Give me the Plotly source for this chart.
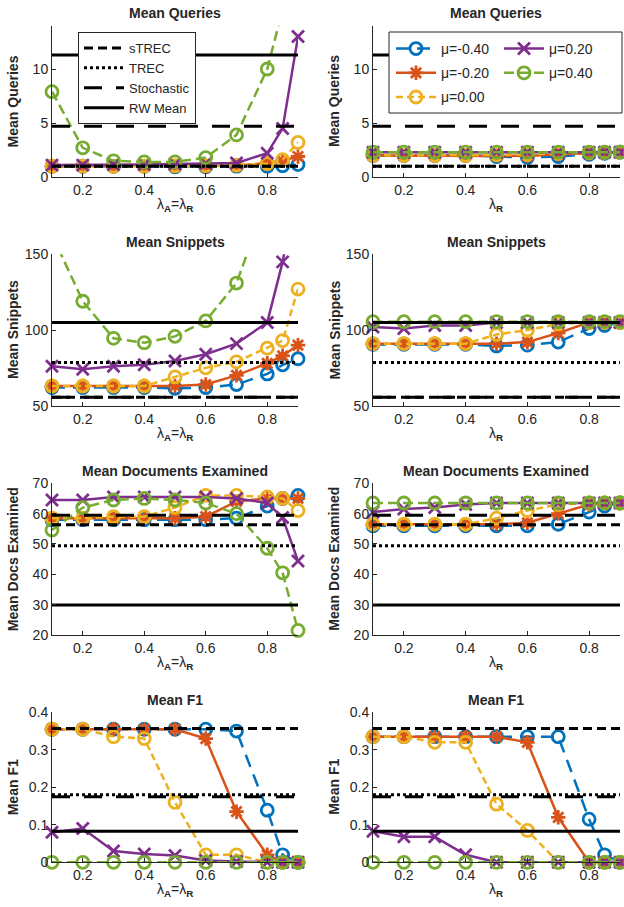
import plotly.graph_objects as go

W, H = 624, 907

# ---------------- data ----------------
lam = [0.1, 0.2, 0.3, 0.4, 0.5, 0.6, 0.7, 0.8, 0.85, 0.9]
mu_labels = ["μ=-0.40", "μ=-0.20", "μ=0.00", "μ=0.20", "μ=0.40"]
ref_labels = ["sTREC", "TREC", "Stochastic", "RW Mean"]

# Mean Queries
q_ar_m040 = [1.0, 1.0, 1.0, 1.0, 0.95, 0.95, 1.0, 1.0, 1.05, 1.15]
q_ar_m020 = [1.0, 1.0, 1.0, 1.0, 1.0, 1.0, 1.05, 1.3, 1.5, 1.9]
q_ar_p000 = [1.0, 1.0, 1.0, 1.0, 1.05, 1.05, 1.1, 1.25, 1.6, 3.2]
q_ar_p020 = [1.1, 1.1, 1.15, 1.15, 1.2, 1.25, 1.3, 2.2, 4.5, 13.0]
q_ar_p040 = [7.9, 2.7, 1.5, 1.4, 1.4, 1.8, 3.9, 10.0, 15.5, 25.0]
q_r_m040 = [2.0, 2.0, 2.0, 2.0, 1.9, 1.8, 1.9, 2.1, 2.2, 2.3]
q_r_m020 = [2.0, 2.0, 2.0, 2.0, 2.0, 1.95, 2.1, 2.2, 2.25, 2.3]
q_r_p000 = [2.0, 2.0, 2.0, 2.0, 2.05, 2.1, 2.2, 2.25, 2.3, 2.3]
q_r_p020 = [2.3, 2.3, 2.3, 2.3, 2.3, 2.3, 2.3, 2.3, 2.3, 2.3]
q_r_p040 = [2.3, 2.3, 2.3, 2.3, 2.3, 2.3, 2.3, 2.3, 2.3, 2.3]
q_ref = [1.0, 1.0, 4.7, 11.3]

# Mean Snippets
s_ar_m040 = [62, 62, 62, 62, 61.5, 62, 64, 71, 77, 81]
s_ar_m020 = [63, 63, 63, 63, 63, 64, 70, 78, 83, 90]
s_ar_p000 = [63, 63, 63, 63, 69, 75, 79, 88, 93, 127]
s_ar_p020 = [76, 74, 76, 77, 79.5, 84, 91, 105, 145, 200]
s_ar_p040 = [163, 119, 94.5, 91.6, 95.8, 106, 131, 187, 250, 330]
s_r_m040 = [90.5, 90.5, 90.5, 90.5, 89.5, 90, 92, 101, 103, 105]
s_r_m020 = [91, 91, 91, 91, 91, 92, 98, 105, 105, 105]
s_r_p000 = [91, 91, 91, 91, 97, 100, 104, 105, 105, 105]
s_r_p020 = [102, 101, 103, 103, 105, 105, 105, 105, 105, 105]
s_r_p040 = [105.5, 105.5, 105.5, 105.5, 105.5, 105.5, 105.5, 105.5, 105.5, 105.5]
s_ref = [55.5, 78.5, 55.5, 105.0]

# Mean Documents Examined
d_ar_m040 = [58, 58, 58, 58, 58, 58, 58.5, 62.5, 65, 66]
d_ar_m020 = [58.5, 58.5, 58.5, 58.5, 58.5, 59, 64, 65, 65, 65]
d_ar_p000 = [58.5, 58.5, 59, 59, 62, 66, 66, 65.5, 65, 61]
d_ar_p020 = [64.5, 64.5, 65.5, 65.5, 65.5, 65.5, 65, 63.5, 58.7, 44.4]
d_ar_p040 = [54.6, 62, 64.5, 65, 64.5, 63.5, 60, 48.6, 40.5, 21.5]
d_r_m040 = [56, 56, 56, 56, 56, 56, 56.5, 60.5, 62.5, 63.5]
d_r_m020 = [56.5, 56.5, 56.5, 56.5, 56.5, 57, 60, 63, 63.5, 63.5]
d_r_p000 = [56.5, 56.5, 56.5, 56.5, 58.5, 61, 63, 63.5, 63.5, 63.5]
d_r_p020 = [60.5, 61.5, 62, 63, 63.5, 63.5, 63.5, 63.5, 63.5, 63.5]
d_r_p040 = [63.5, 63.5, 63.5, 63.5, 63.5, 63.5, 63.5, 63.5, 63.5, 63.5]
d_ref = [56.3, 49.4, 59.5, 29.9]

# Mean F1
f_ar_m040 = [0.355, 0.355, 0.355, 0.355, 0.355, 0.355, 0.35, 0.139, 0.02, 0.0]
f_ar_m020 = [0.355, 0.355, 0.355, 0.355, 0.355, 0.33, 0.135, 0.02, 0.0, 0.0]
f_ar_p000 = [0.355, 0.355, 0.335, 0.33, 0.16, 0.02, 0.02, 0.0, 0.0, 0.0]
f_ar_p020 = [0.08, 0.09, 0.03, 0.022, 0.018, 0.005, 0.002, 0.0, 0.0, 0.0]
f_ar_p040 = [0.0, 0.0, 0.0, 0.0, 0.0, 0.0, 0.0, 0.0, 0.0, 0.0]
f_r_m040 = [0.335, 0.335, 0.335, 0.335, 0.335, 0.335, 0.335, 0.115, 0.02, 0.0]
f_r_m020 = [0.335, 0.335, 0.335, 0.335, 0.335, 0.32, 0.12, 0.0, 0.0, 0.0]
f_r_p000 = [0.335, 0.335, 0.32, 0.32, 0.155, 0.085, 0.0, 0.0, 0.0, 0.0]
f_r_p020 = [0.083, 0.068, 0.068, 0.02, 0.0, 0.0, 0.0, 0.0, 0.0, 0.0]
f_r_p040 = [0.0, 0.0, 0.0, 0.0, 0.0, 0.0, 0.0, 0.0, 0.0, 0.0]
f_ref = [0.357, 0.18, 0.175, 0.083]

x_ticks = [0.2, 0.4, 0.6, 0.8]
y_ticks_q = [0, 5, 10]
y_ticks_s = [50, 100, 150]
y_ticks_d = [20, 30, 40, 50, 60, 70]
y_ticks_f = [0, 0.1, 0.2, 0.3, 0.4]
y_ticktext_f = ["0", "0.1", "0.2", "0.3", "0.4"]

# ---------------- styles ----------------
COLORS = ["#0072BD", "#D95319", "#EDB120", "#7E2F8E", "#77AC30"]
SYMBOLS = ["circle-open", "asterisk-open", "circle-open", "x-thin-open", "circle-open"]
MSIZE = [12, 12, 12, 12, 12]
DASHES = ["13px,8px", "solid", "7px,4px", "solid", "10px,5px"]
REF_DASH = ["9px,5px", "3px,3px", "18px,14px", "solid"]
FONT = "Liberation Sans, Arial, sans-serif"
TXT = "#262626"

XL_AR = "λ<sub><b>A</b></sub>=λ<sub><b>R</b></sub>"
XL_R = "λ<sub><b>R</b></sub>"

panels = [
    ([q_ar_m040, q_ar_m020, q_ar_p000, q_ar_p020, q_ar_p040], q_ref, "Mean Queries", "Mean Queries",
     XL_AR, [0, 14], y_ticks_q, None),
    ([q_r_m040, q_r_m020, q_r_p000, q_r_p020, q_r_p040], q_ref, "Mean Queries", "Mean Queries",
     XL_R, [0, 14], y_ticks_q, None),
    ([s_ar_m040, s_ar_m020, s_ar_p000, s_ar_p020, s_ar_p040], s_ref, "Mean Snippets", "Mean Snippets",
     XL_AR, [50, 150], y_ticks_s, None),
    ([s_r_m040, s_r_m020, s_r_p000, s_r_p020, s_r_p040], s_ref, "Mean Snippets", "Mean Snippets",
     XL_R, [50, 150], y_ticks_s, None),
    ([d_ar_m040, d_ar_m020, d_ar_p000, d_ar_p020, d_ar_p040], d_ref, "Mean Documents Examined", "Mean Docs Examined",
     XL_AR, [20, 70], y_ticks_d, None),
    ([d_r_m040, d_r_m020, d_r_p000, d_r_p020, d_r_p040], d_ref, "Mean Documents Examined", "Mean Docs Examined",
     XL_R, [20, 70], y_ticks_d, None),
    ([f_ar_m040, f_ar_m020, f_ar_p000, f_ar_p020, f_ar_p040], f_ref, "Mean F1", "Mean F1",
     XL_AR, [0, 0.4], y_ticks_f, y_ticktext_f),
    ([f_r_m040, f_r_m020, f_r_p000, f_r_p020, f_r_p040], f_ref, "Mean F1", "Mean F1",
     XL_R, [0, 0.4], y_ticks_f, y_ticktext_f),
]

col_x = [(52, 298), (373, 620)]
row_y = [(25.8, 177), (254.3, 405.7), (483.3, 635), (712.3, 862.3)]
ytitle_x = [13, 334.5]

fig = go.Figure()
layout = dict(
    width=W, height=H,
    margin=dict(l=0, r=0, t=0, b=0, autoexpand=False),
    paper_bgcolor="white", plot_bgcolor="white",
    font=dict(family=FONT, color=TXT, size=13),
    annotations=[], shapes=[],
)

series_legend = ["legend2", "legend2", "legend2", "legend3", "legend3"]

for i, (series, refs, title, ytitle, xlabel, yr, yt, ytt) in enumerate(panels):
    r, c = divmod(i, 2)
    n = i + 1
    xa = "x" if n == 1 else f"x{n}"
    ya = "y" if n == 1 else f"y{n}"
    xk = "xaxis" if n == 1 else f"xaxis{n}"
    yk = "yaxis" if n == 1 else f"yaxis{n}"
    x0, x1 = col_x[c]
    yt0, yb0 = row_y[r]
    for k, vals in enumerate(series):
        fig.add_trace(go.Scatter(
            x=lam, y=vals, xaxis=xa, yaxis=ya, mode="lines+markers",
            name=mu_labels[k], cliponaxis=False,
            line=dict(color=COLORS[k], width=2.5, dash=DASHES[k]),
            marker=dict(symbol=SYMBOLS[k], size=MSIZE[k], color=COLORS[k],
                        line=dict(color=COLORS[k], width=2.8)),
            showlegend=(i == 1), legend=series_legend[k],
            legendgroup=f"g{k}",
        ))
    for k, v in enumerate(refs):
        fig.add_trace(go.Scatter(
            x=[lam[0], lam[-1]], y=[v, v], xaxis=xa, yaxis=ya, mode="lines",
            name=ref_labels[k],
            line=dict(color="black", width=3, dash=REF_DASH[k]),
            showlegend=(i == 0), legend="legend",
        ))
    axcommon = dict(showline=True, linecolor=TXT, linewidth=1, ticks="inside",
                    ticklen=4, tickcolor=TXT, showgrid=False, zeroline=False,
                    mirror=False, automargin=False,
                    tickfont=dict(family=FONT, size=14, color=TXT))
    layout[xk] = dict(axcommon, domain=[x0 / W, x1 / W], range=[0.1, 0.9],
                      tickvals=x_ticks, anchor=ya)
    yd = dict(axcommon, domain=[1 - yb0 / H, 1 - yt0 / H], range=yr,
              tickvals=yt, anchor=xa)
    if ytt is not None:
        yd["ticktext"] = ytt
    layout[yk] = yd
    xc = (x0 + x1) / 2 / W
    layout["annotations"].append(dict(
        text=title, x=xc, y=1 - (yt0 - 12.5) / H, xref="paper", yref="paper",
        xanchor="center", yanchor="middle", showarrow=False,
        font=dict(family=FONT, size=14, color=TXT, weight="bold")))
    layout["annotations"].append(dict(
        text=xlabel, x=xc, y=1 - (yb0 + 17) / H, xref="paper", yref="paper",
        xanchor="center", yanchor="top", showarrow=False,
        font=dict(family=FONT, size=14, color=TXT)))
    layout["annotations"].append(dict(
        text=ytitle, x=ytitle_x[c] / W, y=1 - (yt0 + yb0) / 2 / H,
        xref="paper", yref="paper", xanchor="center", yanchor="middle",
        textangle=-90, showarrow=False,
        font=dict(family=FONT, size=14, color=TXT, weight="bold")))

# legend frame for the series legend (top right panel)
layout["shapes"].append(dict(
    type="rect", xref="paper", yref="paper", layer="above",
    x0=389 / W, x1=622 / W, y0=1 - 113 / H, y1=1 - 32 / H,
    fillcolor="white", line=dict(color=TXT, width=1)))

layout["legend"] = dict(
    x=78 / W, y=1 - 32 / H, xanchor="left", yanchor="top",
    bgcolor="white", bordercolor=TXT, borderwidth=1,
    font=dict(family=FONT, size=13, color=TXT), itemwidth=40,
    tracegroupgap=0)
layout["legend2"] = dict(
    x=391 / W, y=1 - 33 / H, xanchor="left", yanchor="top",
    bgcolor="rgba(0,0,0,0)", borderwidth=0,
    font=dict(family=FONT, size=14, color=TXT), itemwidth=40,
    tracegroupgap=3)
layout["legend3"] = dict(
    x=499 / W, y=1 - 33 / H, xanchor="left", yanchor="top",
    bgcolor="rgba(0,0,0,0)", borderwidth=0,
    font=dict(family=FONT, size=14, color=TXT), itemwidth=40,
    tracegroupgap=3)

fig.update_layout(**layout)
fig.write_html(
    "out.html",
    config={"displayModeBar": False},
    post_script="document.body.style.margin='0';document.body.style.overflow='hidden';",
)
